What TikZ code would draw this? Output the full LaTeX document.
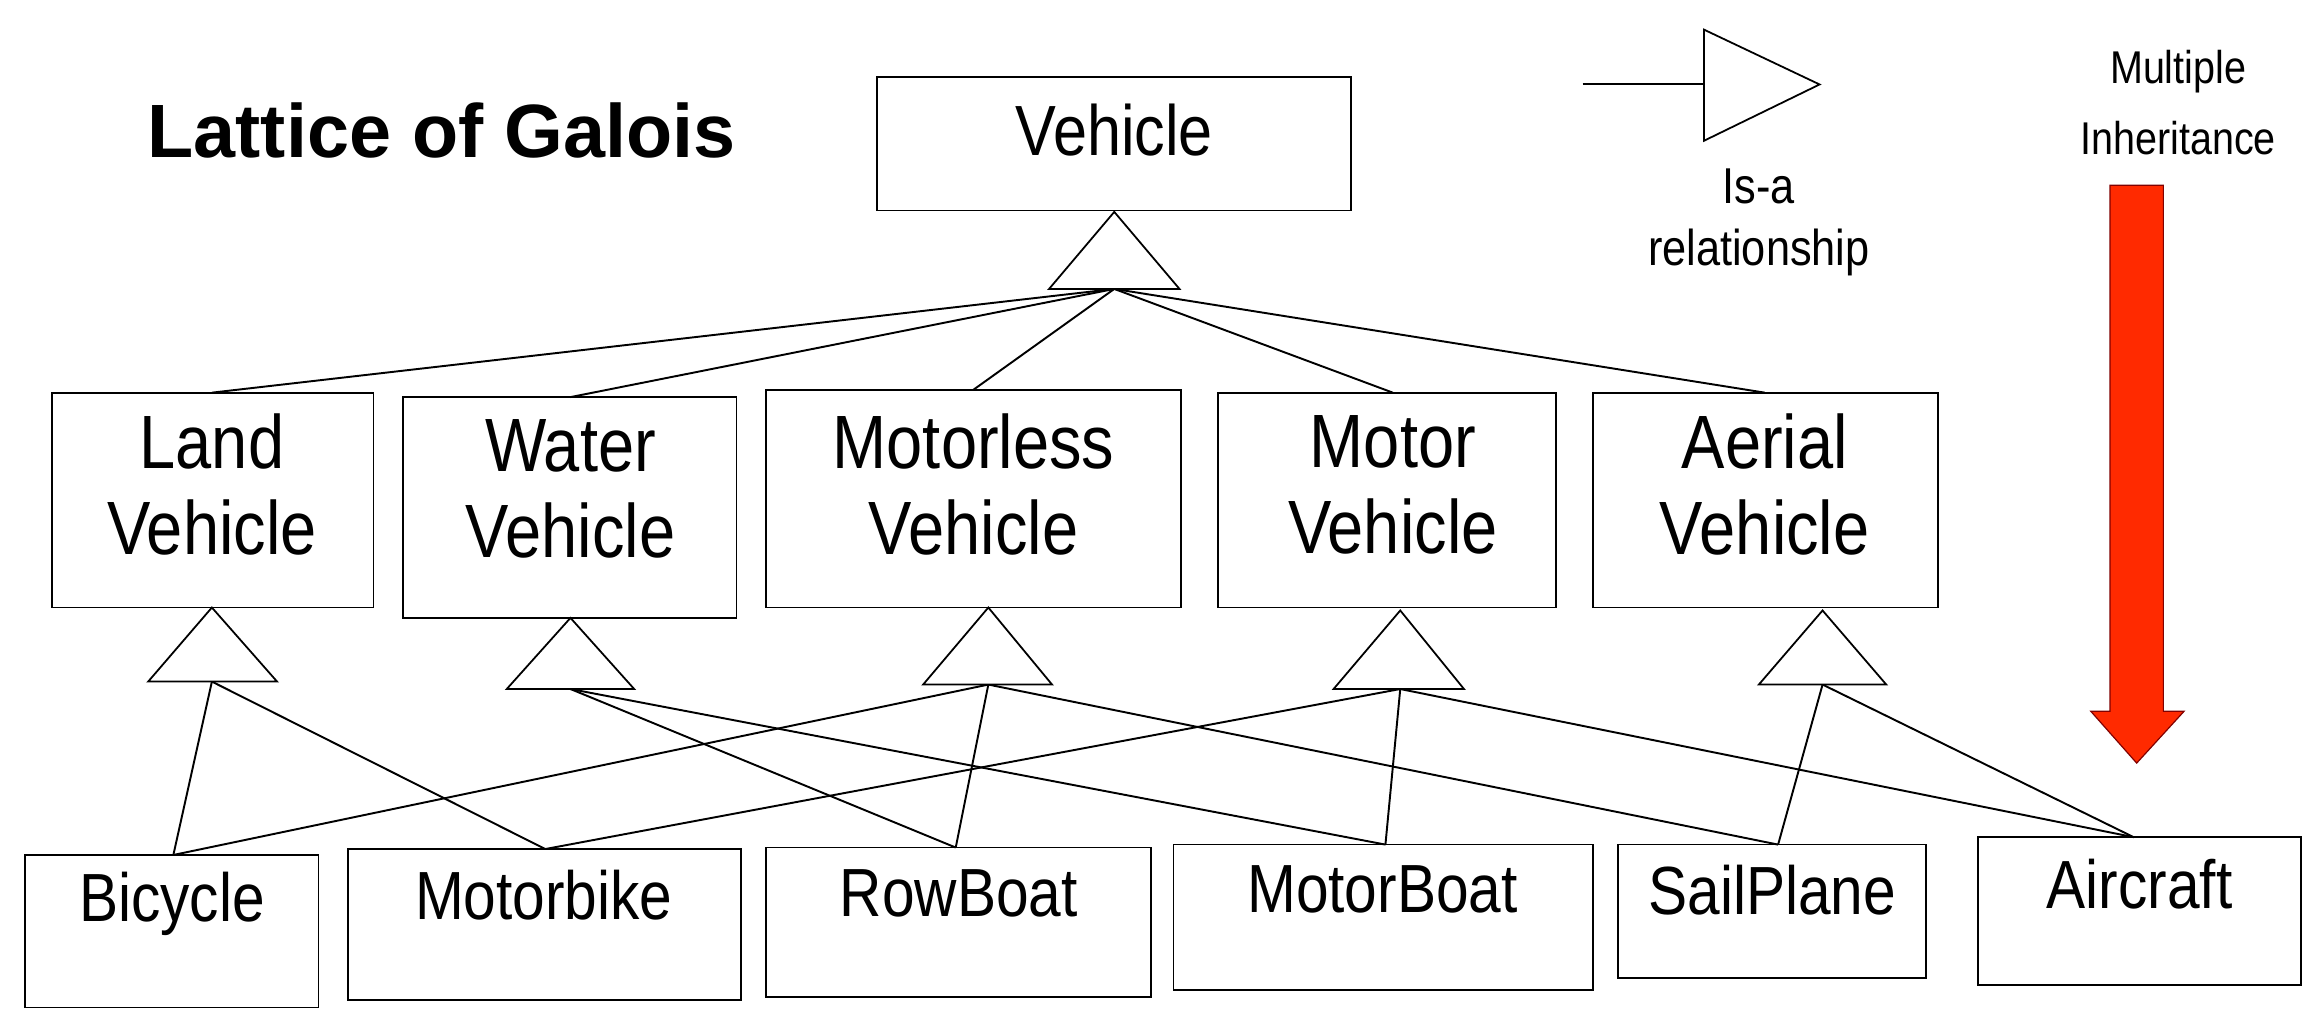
\documentclass[tikz,border=0pt]{standalone}
\usepackage{fontspec}
\setmainfont{Liberation Sans}[FakeStretch=0.86]
\newfontfamily\titlefont{Liberation Sans}
\definecolor{arrred}{HTML}{FF2A00}
\begin{document}
\begin{tikzpicture}[x=1pt,y=-1pt,
  box/.style={draw,line width=1.2pt,fill=white},
  lbl/.style={align=center,inner sep=0pt},
  tri/.style={draw,line width=1.2pt,fill=white},
  ln/.style={line width=1.3pt}]
\useasboundingbox (0,0) rectangle (1561,690);
% boxes
\draw[box] (592,52) rectangle (912,142);
\node[lbl,font=\fontsize{48}{56}\selectfont] (veh) at (752,88) {Vehicle};
\draw[box] (35,265) rectangle (252,410);
\draw[box] (272,268) rectangle (497,417);
\draw[box] (517,263) rectangle (797,410);
\draw[box] (822,265) rectangle (1050,410);
\draw[box] (1075,265) rectangle (1308,410);
\tikzset{mid/.style={lbl,font=\fontsize{51}{58}\selectfont}}
\node[mid] (land) at (143,327) {Land\\Vehicle};
\node[mid] (water) at (385,330) {Water\\Vehicle};
\node[mid] (mless) at (657,327) {Motorless\\Vehicle};
\node[mid] (motor) at (940,327) {Motor\\Vehicle};
\node[mid] (aer) at (1191,327) {Aerial\\Vehicle};
\draw[box] (17,577) rectangle (215,680);
\draw[box] (235,573) rectangle (500,675);
\draw[box] (517,572) rectangle (777,673);
\draw[box] (792,570) rectangle (1075,668);
\draw[box] (1092,570) rectangle (1300,660);
\draw[box] (1335,565) rectangle (1553,665);
\tikzset{bot/.style={lbl,font=\fontsize{46}{52}\selectfont}}
\node[bot] (bic) at (116,610) {Bicycle};
\node[bot] (mbike) at (367,604) {Motorbike};
\node[bot] (row) at (647,603) {RowBoat};
\node[bot] (mboat) at (933,600) {MotorBoat};
\node[bot] (sail) at (1196,601) {SailPlane};
\node[bot] (air) at (1444,597) {Aircraft};
% attachment coordinates
\coordinate (tV) at (752,195);
\coordinate (tL) at (143,460); \coordinate (tW) at (385,465);
\coordinate (tML) at (667,462); \coordinate (tM) at (945,465);
\coordinate (tA) at (1230,462);
\coordinate (landT) at (143,265); \coordinate (waterT) at (385,268);
\coordinate (mlessT) at (657,263); \coordinate (motorT) at (940,265);
\coordinate (aerT) at (1191,265);
\coordinate (bicT) at (117,577); \coordinate (mbikeT) at (368,573);
\coordinate (rowT) at (645,572); \coordinate (mboatT) at (935,570);
\coordinate (sailT) at (1200,570); \coordinate (airT) at (1440,565);
% connectors
\foreach \t in {landT,waterT,mlessT,motorT,aerT} \draw[ln] (tV) -- (\t);
\draw[ln] (tL) -- (bicT); \draw[ln] (tL) -- (mbikeT);
\draw[ln] (tW) -- (rowT); \draw[ln] (tW) -- (mboatT);
\draw[ln] (tML) -- (bicT); \draw[ln] (tML) -- (rowT); \draw[ln] (tML) -- (sailT);
\draw[ln] (tM) -- (mbikeT); \draw[ln] (tM) -- (mboatT); \draw[ln] (tM) -- (airT);
\draw[ln] (tA) -- (sailT); \draw[ln] (tA) -- (airT);
% triangles
\draw[tri] (752,143) -- (796,195) -- (708,195) -- cycle;
\draw[tri] (143,410) -- (187,460) -- (100,460) -- cycle;
\draw[tri] (385,417) -- (428,465) -- (342,465) -- cycle;
\draw[tri] (667,410) -- (710,462) -- (623,462) -- cycle;
\draw[tri] (945,412) -- (988,465) -- (900,465) -- cycle;
\draw[tri] (1230,412) -- (1273,462) -- (1187,462) -- cycle;
% title
\node[lbl,font=\titlefont\bfseries\fontsize{51}{58}\selectfont] (title) at (298,88) {Lattice of Galois};
% legend
\coordinate (lg0) at (1068,57);
\coordinate (lg1) at (1150,57);
\draw[ln] (lg0) -- (lg1);
\draw[tri] (1150,20) -- (1228,57) -- (1150,95) -- cycle;
\node[lbl,font=\fontsize{34}{42}\selectfont] (isa) at (1187,150) {Is-a\\relationship};
\node[lbl,font=\fontsize{31}{48}\selectfont] (mi) at (1470,69) {Multiple\\Inheritance};
\fill[arrred,draw=red!50!black,line width=0.8pt] (1424,125) -- (1460,125) -- (1460,480) -- (1474,480) -- (1442,515) -- (1411,480) -- (1424,480) -- cycle;
\end{tikzpicture}
\end{document}
